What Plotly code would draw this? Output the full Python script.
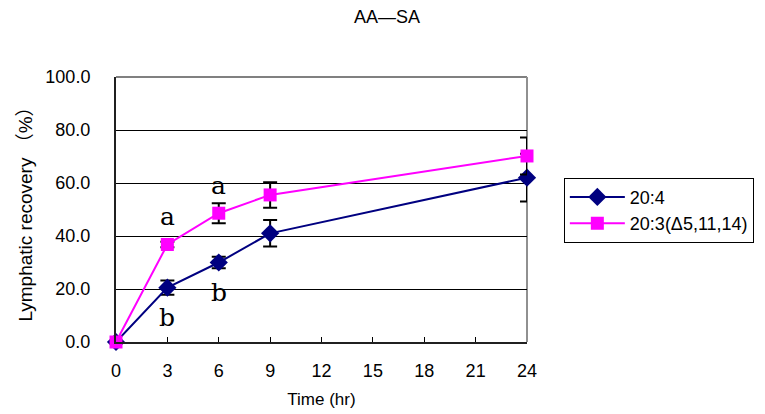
import plotly.graph_objects as go

time = [0, 3, 6, 9, 24]
s1_name = "20:4"
s1 = [0.0, 20.5, 30.0, 41.0, 62.0]
s1_err = [0.0, 2.7, 2.2, 5.0, 9.0]
s2_name = "20:3(Δ5,11,14)"
s2 = [0.0, 36.8, 48.6, 55.5, 70.2]
s2_err = [0.0, 1.0, 3.8, 4.8, 7.0]
x_ticks = [0, 3, 6, 9, 12, 15, 18, 21, 24]
y_ticks = [0, 20, 40, 60, 80, 100]
letters = [(3, 36.8, "a", "above"), (6, 48.6, "a", "above"), (3, 20.5, "b", "below"), (6, 30.0, "b", "below")]

font_main = "Liberation Sans, Noto Sans CJK JP, sans-serif"

fig = go.Figure()
fig.add_trace(go.Scatter(
    x=time, y=s1, name=s1_name, mode="lines+markers", cliponaxis=False,
    line=dict(color="#000080", width=2),
    marker=dict(symbol="diamond", size=14, color="#000080"),
    error_y=dict(type="data", array=s1_err, color="black", thickness=2, width=7),
))
fig.add_trace(go.Scatter(
    x=time, y=s2, name=s2_name, mode="lines+markers", cliponaxis=False,
    line=dict(color="#FF00FF", width=2),
    marker=dict(symbol="square", size=13, color="#FF00FF"),
    error_y=dict(type="data", array=s2_err, color="black", thickness=2, width=7),
))

for x, y, t, pos in letters:
    fig.add_annotation(x=x, y=y, text=t, showarrow=False,
                       yshift=(28 if pos == "above" else -30),
                       font=dict(family="DejaVu Serif, Liberation Serif, serif", size=25, color="black"))

fig.update_layout(
    width=765, height=414,
    margin=dict(l=116, r=237, t=77, b=72),
    paper_bgcolor="white", plot_bgcolor="white",
    title=dict(text="AA—SA", x=387 / 765, xanchor="center", y=1 - 17 / 414, yanchor="middle",
               font=dict(family=font_main, size=18, color="black")),
    font=dict(family=font_main, size=17, color="black"),
    legend=dict(x=1.087, y=0.62, xanchor="left", yanchor="top",
                bordercolor="black", borderwidth=1, bgcolor="white",
                font=dict(family=font_main, size=18, color="black"),
                itemwidth=55, tracegroupgap=0),
    showlegend=True,
)
fig.update_xaxes(
    range=[0, 24], tickvals=x_ticks, ticktext=[str(v) for v in x_ticks],
    ticks="inside", ticklen=5, tickcolor="black", tickwidth=1,
    showline=True, linecolor="#202020", linewidth=2, mirror=False,
    showgrid=False, zeroline=False, ticklabelstandoff=11, automargin=False,
    title=dict(text="Time (hr)", standoff=14, font=dict(size=17)),
    tickfont=dict(size=18),
)
fig.update_yaxes(
    range=[0, 100], tickvals=y_ticks, tickformat=".1f",
    ticks="inside", ticklen=5, tickcolor="black", tickwidth=1,
    showline=True, linecolor="#202020", linewidth=2, automargin=False,
    showgrid=True, gridcolor="black", gridwidth=1, zeroline=False, ticklabelstandoff=20,
    title=dict(text="Lymphatic recovery （%）", standoff=8, font=dict(size=19)),
    tickfont=dict(size=18),
)
# grey frame on top and right of plot area
fig.add_shape(type="line", xref="paper", yref="paper", x0=0, x1=1, y0=1, y1=1,
              line=dict(color="#808080", width=2), layer="below")
fig.add_shape(type="line", xref="paper", yref="paper", x0=1, x1=1, y0=0, y1=1,
              line=dict(color="#909090", width=2), layer="below")

fig.write_html("out.html")
